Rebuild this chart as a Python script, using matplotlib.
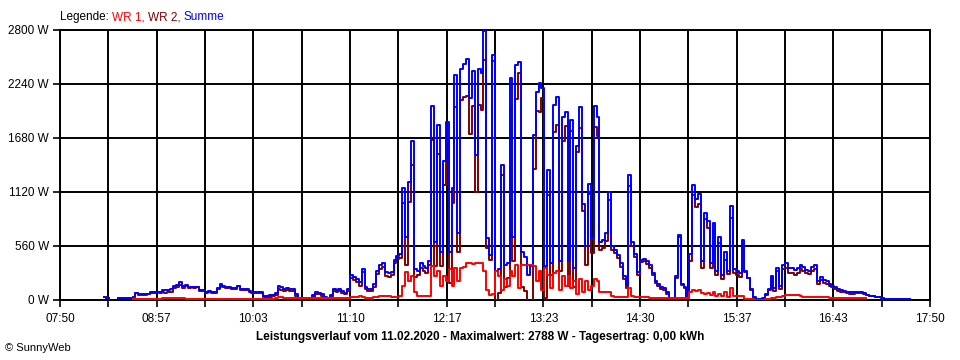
import numpy as np
import matplotlib
matplotlib.use("Agg")
import matplotlib.pyplot as plt

nan = np.nan

# x tick labels (every 66.7 min from 07:50), y ticks
x_labels = ["07:50", "08:57", "10:03", "11:10", "12:17", "13:23", "14:30", "15:37", "16:43", "17:50"]
y_ticks = [0, 560, 1120, 1680, 2240, 2800]

# sample times: minutes after 07:50, 2-minute steps from 08:20
t_start, t_step = 30, 2

# Summe (blue), W
summe = [
    30, 25, nan, nan, nan, 17, 17, 17, 17, 20,
    35, 76, 62, 62, 62, 65, 83, 83, 85, 83,
    104, 100, 104, 110, 150, 156, 183, 150, 155, 138,
    140, 135, 138, 104, 104, 87, 90, 87, 87, 120,
    163, 150, 131, 131, 121, 121, 149, 110, 115, 110,
    95, 87, 87, 87, 80, 45, 45, 48, 55, 70,
    149, 140, 114, 120, 114, 110, 60, 24, 22, 22,
    22, 25, 50, 83, 75, 60, 30, 7, 50, 110,
    105, 115, 90, 75, 110, 260, 240, 215, 190, 322,
    140, 115, 115, 170, 300, 360, 380, 290, 277, 290,
    420, 460, 480, 1160, 650, 1220, 1650, 320, 300, 380,
    350, 330, 400, 2010, 600, 1815, 500, 1440, 1850, 500,
    1160, 2335, 700, 2400, 2450, 2500, 2100, 2380, 1500, 2400,
    2350, 2788, 640, 470, 2540, 300, 320, 1400, 360, 380,
    2300, 650, 2440, 2470, 500, 450, 260, 350, 1710, 2160,
    2250, 2200, 350, 1350, 380, 2020, 2110, 400, 1900, 1950,
    400, 1870, 330, 1600, 2000, 1000, 560, 1200, 640, 2010,
    1900, 600, 620, 700, 1120, 560, 520, 470, 380, 250,
    155, 1300, 600, 480, 295, 420, 430, 400, 360, 280,
    200, 170, 130, 120, 80, 17, 17, 250, 675, 170,
    140, 35, 480, 1190, 1050, 1100, 400, 900, 820, 380,
    800, 300, 650, 260, 500, 300, 970, 320, 300, 280,
    620, 300, 230, 110, 30, 7, 7, 20, 60, 110,
    250, 120, 330, 150, 360, 380, 330, 330, 310, 330,
    360, 340, 310, 300, 340, 360, 200, 240, 210, 195,
    165, 150, 130, 110, 100, 95, 85, 80, 78, 85,
    88, 85, 75, 50, 45, 38, 32, 28, 25, 12,
    10, 10, 8, 8, 8, 8, 8, 8, 8,
]

# WR 1 (red), W
wr1 = [
    nan, nan, nan, nan, nan, nan, nan, nan, nan, nan,
    7, 7, 7, 7, 7, 7, 7, 7, 7, 7,
    24, 24, 24, 24, 24, 24, 24, 24, 10, 10,
    7, 7, 7, 10, 12, 10, 7, 10, 12, 10,
    12, 10, 10, 7, 7, 7, 7, 7, 7, 7,
    10, 10, 10, 12, 12, 12, 12, 12, 12, 17,
    30, 35, 17, 17, 17, 17, 17, 17, 17, 17,
    17, 17, 17, 17, 17, 17, 17, 17, 17, 17,
    17, 17, 17, 17, 17, 35, 35, 30, 40, 35,
    24, 24, 24, 30, 35, 40, 40, 40, 40, 35,
    35, 35, 40, 150, 290, 200, 250, 85, 45, 45,
    45, 45, 40, 350, 250, 300, 150, 250, 200, 320,
    150, 330, 200, 330, 340, 380, 380, 370, 380, 380,
    380, 300, 100, 50, 60, 300, 250, 100, 220, 150,
    300, 250, 360, 120, 360, 360, 360, 360, 350, 200,
    300, 100, 330, 260, 120, 280, 300, 100, 250, 150,
    250, 120, 200, 60, 220, 80, 200, 100, 150, 220,
    200, 85, 85, 85, 85, 40, 35, 35, 35, 35,
    35, 120, 40, 35, 35, 30, 30, 30, 25, 25,
    20, 20, 17, 17, 17, 17, 17, 17, 17, 17,
    17, 17, 80, 100, 90, 100, 70, 60, 70, 50,
    80, 40, 60, 40, 80, 35, 120, 40, 40, 40,
    40, 10, 7, 7, 5, 5, 5, 5, 7, 10,
    20, 25, 30, 35, 40, 50, 50, 50, 50, 48,
    40, 35, 35, 35, 35, 35, 35, 30, 30, 30,
    20, 17, 17, 17, 17, 17, 17, 17, 17, 17,
    17, 17, 17, nan, nan, nan, nan, nan, nan, nan,
    nan, nan, nan, nan, nan, nan, nan, nan, nan,
]

summe_a = np.array(summe, dtype=float)
wr1_a = np.array(wr1, dtype=float)
# WR 2 is the remainder of the sum
wr2_a = np.where(np.isnan(wr1_a), summe_a, summe_a - wr1_a)
t = t_start + t_step * np.arange(len(summe_a))

fig = plt.figure(figsize=(9.6, 3.6), dpi=100)
ax = fig.add_axes([60 / 960, 60 / 360, 870 / 960, 270 / 360])

lw = 1.4
ax.plot(t, wr2_a, color="#800000", lw=lw, drawstyle="steps-post", zorder=3)
ax.plot(t, summe_a, color="#0000FF", lw=lw, drawstyle="steps-post", zorder=4)
ax.plot(t, wr1_a, color="#FF0000", lw=lw, drawstyle="steps-post", zorder=5)

ax.set_xlim(0, 600)
ax.set_ylim(0, 2800)
major = np.linspace(0, 600, len(x_labels))
minor = (major[:-1] + major[1:]) / 2
ax.set_xticks(major)
ax.set_xticklabels(x_labels)
ax.set_xticks(minor, minor=True)
ax.set_yticks(y_ticks)
ax.set_yticklabels([f"{v} W" for v in y_ticks])

for v in list(major) + list(minor):
    ax.axvline(v, color="black", lw=lw, zorder=1)
for v in y_ticks:
    ax.axhline(v, color="black", lw=lw, zorder=1)

for s in ax.spines.values():
    s.set_color("black")
    s.set_linewidth(lw)
ax.tick_params(axis="both", which="both", direction="out", length=5, width=1.2,
               colors="black", labelsize=8.5, pad=3)
ax.tick_params(axis="x", which="both", pad=4)
for lab in ax.get_xticklabels() + ax.get_yticklabels():
    lab.set_family("Liberation Sans")

# legend text line
fs = 8.5
fam = "Liberation Sans"
parts = [("Legende: ", "black"), ("WR 1, ", "#FF0000"), ("WR 2, ", "#800000"), ("Summe", "#0000FF")]
fig.canvas.draw()
renderer = fig.canvas.get_renderer()
x0 = 60
for txt, col in parts:
    tt = fig.text(x0 / 960, 1 - 17 / 360, txt, color=col, fontsize=fs, family=fam,
                  va="center", ha="left")
    bb = tt.get_window_extent(renderer=renderer)
    x0 += bb.width

fig.text(480 / 960, 1 - 337 / 360,
         "Leistungsverlauf vom 11.02.2020 - Maximalwert: 2788 W - Tagesertrag: 0,00 kWh",
         fontsize=8.5, fontweight="bold", family=fam, ha="center", va="center")
fig.text(5 / 960, 1 - 348 / 360, "© SunnyWeb", fontsize=8, family=fam,
         ha="left", va="center")

fig.savefig("out.png", dpi=100)
